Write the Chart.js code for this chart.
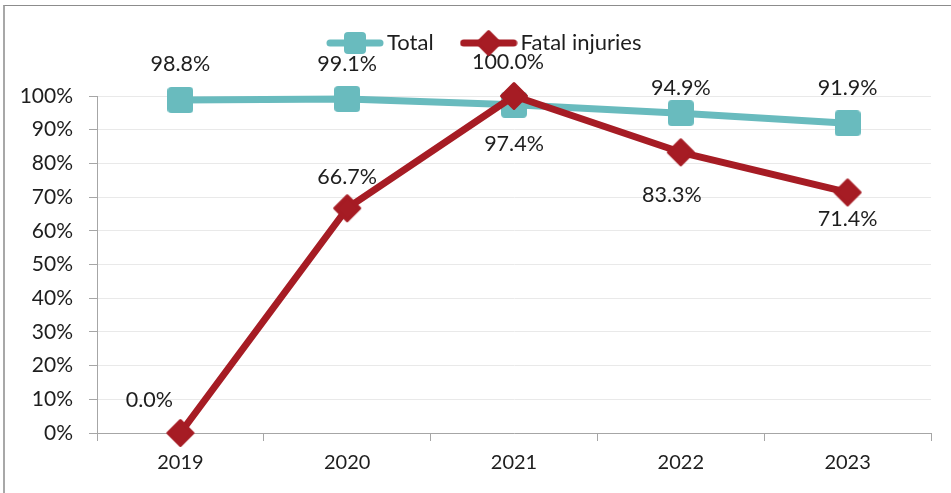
<!DOCTYPE html>
<html>
<head>
<meta charset="utf-8">
<script src="https://cdn.jsdelivr.net/npm/chart.js@4.4.1/dist/chart.umd.min.js"></script>
<style>
  body { margin: 0; background: #fff; }
  #wrap { position: relative; width: 951px; height: 493px; overflow: hidden; }
  #frame { position: absolute; left: 3px; top: 5px; width: 1000px; height: 600px;
           border-left: 2px solid #a8a8a8; border-top: 1px solid #8c8c8c; pointer-events: none; }
  canvas { position: absolute; left: 0; top: 0; }
</style>
</head>
<body>
<div id="wrap">
  <canvas id="chart" width="951" height="493"></canvas>
  <div id="frame"></div>
</div>
<script>
// chart data
const years = ['2019', '2020', '2021', '2022', '2023'];
const totalPct = [98.8, 99.1, 97.4, 94.9, 91.9];
const fatalPct = [0.0, 66.7, 100.0, 83.3, 71.4];
const yTicks = [0, 10, 20, 30, 40, 50, 60, 70, 80, 90, 100];

const TEAL = '#69BBBE';
const RED = '#A61C24';
const TEXT = '#1e1e1e';
const FONT = 'Lato, "Open Sans", sans-serif';

// marker images
function squareMarker(size, color) {
    const c = document.createElement('canvas');
    c.width = size; c.height = size;
    const g = c.getContext('2d');
    g.fillStyle = color;
    g.beginPath();
    g.roundRect(0, 0, size, size, 4);
    g.fill();
    return c;
}
function diamondMarker(half, color) {
    const c = document.createElement('canvas');
    const s = half * 2 + 4;
    c.width = s; c.height = s;
    const g = c.getContext('2d');
    const m = s / 2;
    g.fillStyle = color; g.strokeStyle = color;
    g.lineWidth = 3; g.lineJoin = 'round';
    g.beginPath();
    g.moveTo(m, m - half + 1.5); g.lineTo(m + half - 1.5, m);
    g.lineTo(m, m + half - 1.5); g.lineTo(m - half + 1.5, m);
    g.closePath(); g.fill(); g.stroke();
    return c;
}
function legendIcon(marker, color) {
    const c = document.createElement('canvas');
    c.width = 58; c.height = 26;
    const g = c.getContext('2d');
    g.strokeStyle = color; g.lineWidth = 7; g.lineCap = 'round';
    g.beginPath(); g.moveTo(4, 13); g.lineTo(54, 13); g.stroke();
    g.drawImage(marker, 29 - marker.width / 2, 13 - marker.height / 2);
    return c;
}

const totalMarker = squareMarker(26, TEAL);
const fatalMarker = diamondMarker(14, RED);
const legendIcons = [
    legendIcon(squareMarker(22, TEAL), TEAL),
    legendIcon(diamondMarker(13, RED), RED)
];

// label offsets [dx, dy] from each point
const labelOffsets = [
    [[0, -36], [0, -35], [0, 39], [0, -25], [0, -35]],
    [[-31, -33], [0, -31], [-6, -34], [-9, 43], [0, 27]]
];

const dataLabels = {
    id: 'dataLabels',
    afterDatasetsDraw(chart) {
        const ctx = chart.ctx;
        ctx.save();
        ctx.font = '21.5px ' + FONT;
        ctx.fillStyle = TEXT;
        ctx.textAlign = 'center';
        ctx.textBaseline = 'middle';
        chart.data.datasets.forEach((ds, di) => {
            chart.getDatasetMeta(di).data.forEach((pt, i) => {
                const off = labelOffsets[di][i];
                ctx.fillText(ds.data[i].toFixed(1) + '%', pt.x + off[0], pt.y + off[1]);
            });
        });
        ctx.restore();
    }
};

// line + marker legend across the top
const lineLegend = {
    id: 'lineLegend',
    afterDraw(chart) {
        const ctx = chart.ctx;
        ctx.save();
        ctx.font = '22px ' + FONT;
        ctx.fillStyle = TEXT;
        ctx.textBaseline = 'middle';
        let x = 326;
        const y = 43;
        chart.data.datasets.forEach((ds, i) => {
            const icon = legendIcons[i];
            ctx.drawImage(icon, x, y - icon.height / 2);
            ctx.fillText(ds.label, x + 61, y);
            x += 61 + ctx.measureText(ds.label).width + 26;
        });
        ctx.restore();
    }
};

Chart.defaults.font.family = FONT;
Chart.defaults.font.size = 20;
Chart.defaults.color = TEXT;

new Chart(document.getElementById('chart'), {
    type: 'line',
    data: {
        labels: years,
        datasets: [{
            label: 'Total',
            data: totalPct,
            borderColor: TEAL,
            backgroundColor: TEAL,
            borderWidth: 7,
            pointStyle: totalMarker,
            clip: false,
            order: 2
        }, {
            label: 'Fatal injuries',
            data: fatalPct,
            borderColor: RED,
            backgroundColor: RED,
            borderWidth: 7,
            pointStyle: fatalMarker,
            clip: false,
            order: 1
        }]
    },
    options: {
        responsive: false,
        animation: false,
        devicePixelRatio: 1,
        layout: { padding: { left: 0, right: 20, top: 96, bottom: 0 } },
        elements: {
            line: { tension: 0, borderJoinStyle: 'round', borderCapStyle: 'round', fill: false }
        },
        plugins: {
            tooltip: { enabled: false },
            legend: { display: false }
        },
        scales: {
            x: {
                offset: true,
                grid: { offset: true, drawOnChartArea: false, tickLength: 8, tickColor: '#a6a6a6' },
                border: { color: '#a6a6a6', width: 1 },
                ticks: { padding: 10 },
                afterFit(scale) { scale.height = 60; }
            },
            y: {
                min: 0,
                max: 100,
                afterBuildTicks(scale) { scale.ticks = yTicks.map(v => ({ value: v })); },
                grid: { color: '#e9e9e9', tickLength: 8, tickColor: '#a6a6a6' },
                border: { color: '#a6a6a6', width: 1 },
                ticks: { padding: 16, font: { size: 21 }, callback: v => v + '%' },
                afterFit(scale) { scale.width = 97; }
            }
        }
    },
    plugins: [dataLabels, lineLegend]
});
</script>
</body>
</html>
